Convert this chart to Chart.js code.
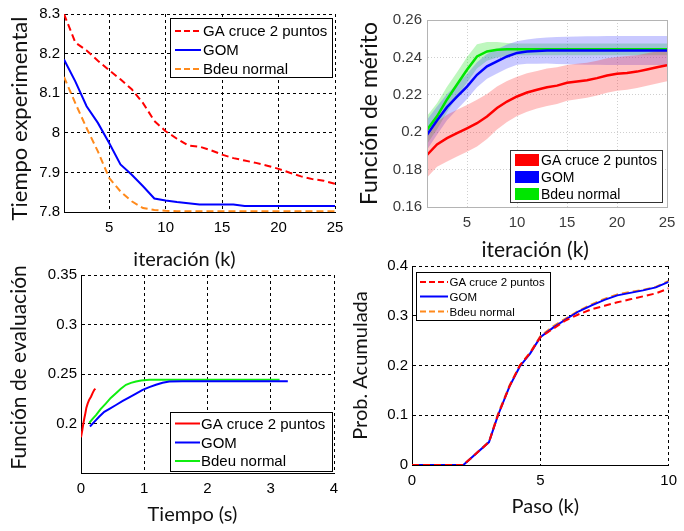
<!DOCTYPE html>
<html>
<head>
<meta charset="utf-8">
<script src="https://cdn.jsdelivr.net/npm/chart.js@4.4.0/dist/chart.umd.min.js"></script>
<style>
  html, body { margin: 0; padding: 0; background: #fff; }
  #wrap { position: relative; width: 684px; height: 531px; }
  #wrap canvas { position: absolute; left: 0; top: 0; }
</style>
</head>
<body>
<div id="wrap">
  <canvas id="tiempo" width="684" height="531"></canvas>
  <canvas id="merito" width="684" height="531"></canvas>
  <canvas id="evaluacion" width="684" height="531"></canvas>
  <canvas id="prob" width="684" height="531"></canvas>
</div>
<script>
const nombres = ['GA cruce 2 puntos', 'GOM', 'Bdeu normal']

const iteraciones = [1, 2, 3, 4, 5, 6, 7, 8, 9, 10, 11, 12, 13, 14, 15, 16, 17, 18, 19, 20, 21, 22, 23, 24, 25]
const ticksIter = [5, 10, 15, 20, 25]

// arriba izquierda: tiempo experimental
const tiempoGA = [8.300, 8.228, 8.208, 8.182, 8.158, 8.135, 8.110, 8.075, 8.030, 8.004, 7.985, 7.968, 7.965, 7.956, 7.945, 7.936, 7.930, 7.924, 7.917, 7.909, 7.899, 7.890, 7.883, 7.879, 7.871]
const tiempoGOM = [8.185, 8.130, 8.067, 8.025, 7.974, 7.920, 7.894, 7.865, 7.834, 7.829, 7.825, 7.822, 7.819, 7.819, 7.819, 7.819, 7.815, 7.815, 7.815, 7.815, 7.815, 7.815, 7.815, 7.815, 7.815]
const tiempoBdeu = [8.141, 8.075, 8.012, 7.953, 7.886, 7.852, 7.827, 7.810, 7.805, 7.803, 7.802, 7.802, 7.802, 7.802, 7.802, 7.802, 7.802, 7.802, 7.802, 7.802, 7.802, 7.802, 7.802, 7.802, 7.802]
const ticksTiempo = [7.8, 7.9, 8, 8.1, 8.2, 8.3]

// arriba derecha: funcion de merito, media y semiancho de la banda
const meritoGA = [0.1878, 0.1935, 0.1968, 0.1995, 0.2021, 0.2048, 0.2084, 0.2129, 0.2164, 0.2191, 0.2212, 0.2227, 0.2240, 0.2249, 0.2264, 0.2271, 0.2278, 0.2289, 0.2303, 0.2312, 0.2317, 0.2324, 0.2335, 0.2347, 0.2358]
const bandaGA = [0.012, 0.012, 0.0125, 0.0125, 0.0125, 0.0125, 0.012, 0.0115, 0.011, 0.0105, 0.0103, 0.010, 0.010, 0.0098, 0.0096, 0.0095, 0.0094, 0.0093, 0.0092, 0.009, 0.009, 0.0088, 0.0087, 0.0086, 0.0085]
const meritoGOM = [0.1986, 0.2062, 0.2134, 0.2190, 0.2244, 0.2307, 0.2352, 0.2379, 0.2405, 0.2424, 0.2431, 0.2434, 0.2437, 0.2437, 0.2437, 0.2437, 0.2437, 0.2437, 0.2437, 0.2437, 0.2437, 0.2437, 0.2437, 0.2437, 0.2437]
const bandaGOM = [0.008, 0.0075, 0.007, 0.0068, 0.0067, 0.0067, 0.0066, 0.0065, 0.0064, 0.0063, 0.0065, 0.0068, 0.007, 0.0072, 0.0074, 0.0075, 0.0076, 0.0076, 0.0077, 0.0077, 0.0077, 0.0077, 0.0077, 0.0077, 0.0077]
const meritoBdeu = [0.2012, 0.2085, 0.2175, 0.2255, 0.2334, 0.2405, 0.2432, 0.2441, 0.2443, 0.2443, 0.2443, 0.2443, 0.2443, 0.2443, 0.2443, 0.2443, 0.2443, 0.2443, 0.2443, 0.2443, 0.2443, 0.2443, 0.2443, 0.2443, 0.2443]
const bandaBdeu = [0.0075, 0.007, 0.0068, 0.0065, 0.0068, 0.0065, 0.005, 0.0042, 0.0034, 0.0032, 0.0032, 0.0032, 0.0032, 0.0032, 0.0032, 0.0032, 0.0032, 0.0032, 0.0032, 0.0032, 0.0032, 0.0032, 0.0032, 0.0032, 0.0032]
const ticksMerito = [0.16, 0.18, 0.2, 0.22, 0.24, 0.26]

// abajo izquierda: funcion de evaluacion frente al tiempo (s)
const segGA = [0, 0.02, 0.037, 0.055, 0.068, 0.085, 0.105, 0.13, 0.158, 0.185, 0.21, 0.228]
const evalGA = [0.186, 0.193, 0.2, 0.206, 0.21, 0.216, 0.22, 0.224, 0.227, 0.231, 0.234, 0.235]
const segGOM = [0.142, 0.21, 0.29, 0.368, 0.45, 0.553, 0.66, 0.763, 0.87, 0.975, 1.08, 1.185, 1.29, 1.395, 1.6, 2.0, 2.5, 3.0, 3.27]
const evalGOM = [0.197, 0.2016, 0.207, 0.2118, 0.2148, 0.2187, 0.2228, 0.2265, 0.2302, 0.234, 0.2368, 0.2391, 0.2412, 0.2424, 0.2426, 0.2427, 0.2428, 0.2428, 0.2428]
const segBdeu = [0.131, 0.18, 0.237, 0.31, 0.395, 0.47, 0.553, 0.63, 0.711, 0.79, 0.869, 0.95, 1.08, 1.5, 2.0, 2.5, 3.14]
const evalBdeu = [0.2006, 0.2045, 0.2085, 0.2145, 0.2204, 0.2258, 0.2306, 0.2352, 0.2391, 0.241, 0.2424, 0.2435, 0.2442, 0.2442, 0.2442, 0.2442, 0.2442]
const ticksSeg = [0, 1, 2, 3, 4]
const ticksEval = [0.2, 0.25, 0.3, 0.35]

// abajo derecha: probabilidad acumulada
const pasos = [0, 1, 2, 3, 3.35, 3.8, 4.2, 4.6, 5, 5.5, 6, 6.5, 7, 7.5, 8, 8.5, 9, 9.5, 10]
const probGA = [0, 0, 0, 0.046, 0.1, 0.158, 0.2, 0.225, 0.257, 0.274, 0.291, 0.303, 0.313, 0.32, 0.327, 0.333, 0.339, 0.345, 0.355]
const probGOM = [0, 0, 0, 0.046, 0.1, 0.158, 0.198, 0.224, 0.257, 0.276, 0.293, 0.309, 0.321, 0.332, 0.341, 0.346, 0.351, 0.357, 0.368]
const probBdeu = [0, 0, 0, 0.047, 0.103, 0.16, 0.2, 0.226, 0.259, 0.279, 0.295, 0.31, 0.323, 0.334, 0.343, 0.348, 0.352, 0.358, 0.37]
const ticksPaso = [0, 5, 10]
const ticksProb = [0, 0.1, 0.2, 0.3, 0.4]

const RED = '#ff0000'
const BLUE = '#0000ff'
const ORANGE = '#ff8a1c'
const GREEN = '#10ee10'

Chart.defaults.animation = false
Chart.defaults.events = []
Chart.defaults.font.family = '"Liberation Sans", Arial, sans-serif'
Chart.defaults.plugins.legend.display = false
Chart.defaults.plugins.tooltip.enabled = false

const pts = (xs, ys) => xs.map((x, i) => ({ x, y: ys[i] }))

// matlab style legend box drawn on top of the plot
const boxLegend = {
  id: 'boxLegend',
  afterDraw(chart, _args, opts) {
    const ctx = chart.ctx
    const items = chart.data.datasets.filter((d) => d.label)
    ctx.save()
    ctx.fillStyle = '#fff'
    ctx.fillRect(opts.x, opts.y, opts.w, opts.h)
    ctx.strokeStyle = opts.borderColor
    ctx.lineWidth = 1
    ctx.strokeRect(opts.x + 0.5, opts.y + 0.5, opts.w, opts.h)
    ctx.font = opts.font
    ctx.textBaseline = 'middle'
    items.forEach((d, i) => {
      const cy = opts.rows[i]
      if (opts.swatch === 'box') {
        ctx.fillStyle = d.borderColor
        ctx.fillRect(opts.sample[0], cy - 6, opts.sample[1] - opts.sample[0], 12)
      } else {
        ctx.strokeStyle = d.borderColor
        ctx.lineWidth = 2
        ctx.setLineDash(d.borderDash && d.borderDash.length ? [6, 3] : [])
        ctx.beginPath()
        ctx.moveTo(opts.sample[0], cy)
        ctx.lineTo(opts.sample[1], cy)
        ctx.stroke()
        ctx.setLineDash([])
      }
      ctx.fillStyle = '#000'
      ctx.fillText(d.label, opts.textX, cy + 1)
    })
    ctx.restore()
  }
}
Chart.register(boxLegend)

const frame = {
  id: 'frame',
  afterDatasetsDraw(chart) {
    const { ctx, chartArea: a } = chart
    ctx.save()
    ctx.strokeStyle = '#b4b4b4'
    ctx.lineWidth = 1
    ctx.strokeRect(Math.round(a.left) + 0.5, Math.round(a.top) + 0.5, Math.round(a.right - a.left), Math.round(a.bottom - a.top))
    ctx.restore()
  }
}

function axis(min, max, ticks, size, title, look) {
  return {
    type: 'linear',
    min,
    max,
    afterBuildTicks: (s) => { s.ticks = ticks.map((value) => ({ value })) },
    afterFit: (s) => {
      if (s.isHorizontal()) s.height = size
      else s.width = size
    },
    ticks: {
      autoSkip: false,
      maxRotation: 0,
      padding: title.tickPad,
      color: look.tickColor,
      font: { size: 15 },
      callback: (v) => String(v)
    },
    grid: { color: look.gridColor, drawTicks: false, lineWidth: 1 },
    border: { color: look.axisColor, dash: look.dash, width: 1 },
    title: {
      display: true,
      text: title.text,
      color: '#111',
      font: { family: 'Lato', size: title.size },
      padding: title.padding
    }
  }
}

const dashedLook = { tickColor: '#000', gridColor: '#000', axisColor: '#000', dash: [3, 3] }
const softLook = { tickColor: '#3a3a3a', gridColor: '#cfcfcf', axisColor: '#b4b4b4', dash: [1, 2] }

const line = (label, xs, ys, color, dash, extra) => Object.assign({
  label,
  data: pts(xs, ys),
  borderColor: color,
  borderWidth: 2,
  borderDash: dash,
  pointRadius: 0,
  tension: 0,
  fill: false
}, extra || {})

// --- tiempo experimental ---
new Chart(document.getElementById('tiempo'), {
  type: 'line',
  data: {
    datasets: [
      line(nombres[0], iteraciones, tiempoGA, RED, [7, 4]),
      line(nombres[1], iteraciones, tiempoGOM, BLUE, []),
      line(nombres[2], iteraciones, tiempoBdeu, ORANGE, [7, 4])
    ]
  },
  options: {
    responsive: false,
    layout: { padding: { left: 0, top: 14, right: 349, bottom: 258 } },
    scales: {
      x: axis(1, 25, ticksIter, 61, { text: 'iteración (k)\u2002\u2002\u2002', size: 20, tickPad: 7, padding: { top: 0, bottom: 1 } }, dashedLook),
      y: axis(7.8, 8.3, ticksTiempo, 64, { text: 'Tiempo experimental\u2002', size: 22, tickPad: 4, padding: { top: 7, bottom: 0 } }, dashedLook)
    },
    plugins: {
      boxLegend: { x: 170, y: 18, w: 162, h: 59, borderColor: '#000', font: '15px "Liberation Sans", Arial', sample: [175, 201], textX: 203, rows: [31, 50, 69] }
    }
  }
})

// --- funcion de merito con bandas ---
const band = (xs, mean, half, color) => [
  { data: pts(xs, mean.map((v, i) => v - half[i])), borderWidth: 0, pointRadius: 0, fill: false, order: 2 },
  { data: pts(xs, mean.map((v, i) => v + half[i])), borderWidth: 0, pointRadius: 0, fill: '-1', backgroundColor: color, order: 2 }
]

new Chart(document.getElementById('merito'), {
  type: 'line',
  data: {
    datasets: [
      ...band(iteraciones, meritoGA, bandaGA, 'rgba(255, 40, 40, 0.28)'),
      ...band(iteraciones, meritoGOM, bandaGOM, 'rgba(60, 60, 255, 0.28)'),
      ...band(iteraciones, meritoBdeu, bandaBdeu, 'rgba(40, 230, 40, 0.3)'),
      line(nombres[0], iteraciones, meritoGA, RED, [], { borderWidth: 2.5, order: 1 }),
      line(nombres[1], iteraciones, meritoGOM, BLUE, [], { borderWidth: 2.5, order: 1 }),
      line(nombres[2], iteraciones, meritoBdeu, '#00e600', [], { borderWidth: 2.5, order: 1 })
    ]
  },
  options: {
    responsive: false,
    layout: { padding: { left: 355, top: 20, right: 17, bottom: 268 } },
    scales: {
      x: axis(1, 25, ticksIter, 56, { text: 'iteración (k)\u2002\u2002\u2009', size: 21, tickPad: 7, padding: { top: 0, bottom: 0 } }, softLook),
      y: axis(0.16, 0.26, ticksMerito, 72, { text: 'Función de mérito', size: 23, tickPad: 5, padding: { top: 1, bottom: 0 } }, softLook)
    },
    plugins: {
      boxLegend: { x: 510, y: 150, w: 152, h: 52, borderColor: '#333', swatch: 'box', font: '14px "Liberation Sans", Arial', sample: [515, 539], textX: 541, rows: [160, 177, 194] }
    }
  },
  plugins: [frame]
})

// --- funcion de evaluacion frente al tiempo ---
new Chart(document.getElementById('evaluacion'), {
  type: 'line',
  data: {
    datasets: [
      line(nombres[0], segGA, evalGA, RED, []),
      line(nombres[1], segGOM, evalGOM, BLUE, []),
      line(nombres[2], segBdeu, evalBdeu, GREEN, [])
    ]
  },
  options: {
    responsive: false,
    layout: { padding: { left: 0, top: 275, right: 350, bottom: 4 } },
    scales: {
      x: axis(0, 4, ticksSeg, 54, { text: 'Tiempo (s)\u2002\u2002\u2002', size: 20, tickPad: 7, padding: { top: 0, bottom: 0 } }, dashedLook),
      y: axis(0.15, 0.35, ticksEval, 81, { text: '\u2002\u2009Función de evaluación', size: 21, tickPad: 4, padding: { top: 7, bottom: 0 } }, dashedLook)
    },
    plugins: {
      boxLegend: { x: 170, y: 412, w: 162, h: 59, borderColor: '#000', font: '15px "Liberation Sans", Arial', sample: [175, 200], textX: 201, rows: [423.5, 442.5, 461] }
    }
  }
})

// --- probabilidad acumulada ---
new Chart(document.getElementById('prob'), {
  type: 'line',
  data: {
    datasets: [
      line(nombres[0], pasos, probGA, RED, [7, 4]),
      line(nombres[1], pasos, probGOM, BLUE, []),
      line(nombres[2], pasos, probBdeu, ORANGE, [7, 4])
    ]
  },
  options: {
    responsive: false,
    layout: { padding: { left: 349, top: 266, right: 10, bottom: 12 } },
    scales: {
      x: axis(0, 10, ticksPaso, 54, { text: '\u2002Paso (k)', size: 20, tickPad: 7, padding: { top: 0, bottom: 0 } }, dashedLook),
      y: axis(0, 0.4, ticksProb, 63, { text: 'Prob. Acumulada', size: 20, tickPad: 4, padding: { top: 0, bottom: 0 } }, dashedLook)
    },
    plugins: {
      boxLegend: { x: 416, y: 272, w: 134, h: 48, borderColor: '#000', font: '11.5px "Liberation Sans", Arial', sample: [420, 448], textX: 449.5, rows: [282, 296.5, 311.5] }
    }
  }
})
</script>
</body>
</html>
